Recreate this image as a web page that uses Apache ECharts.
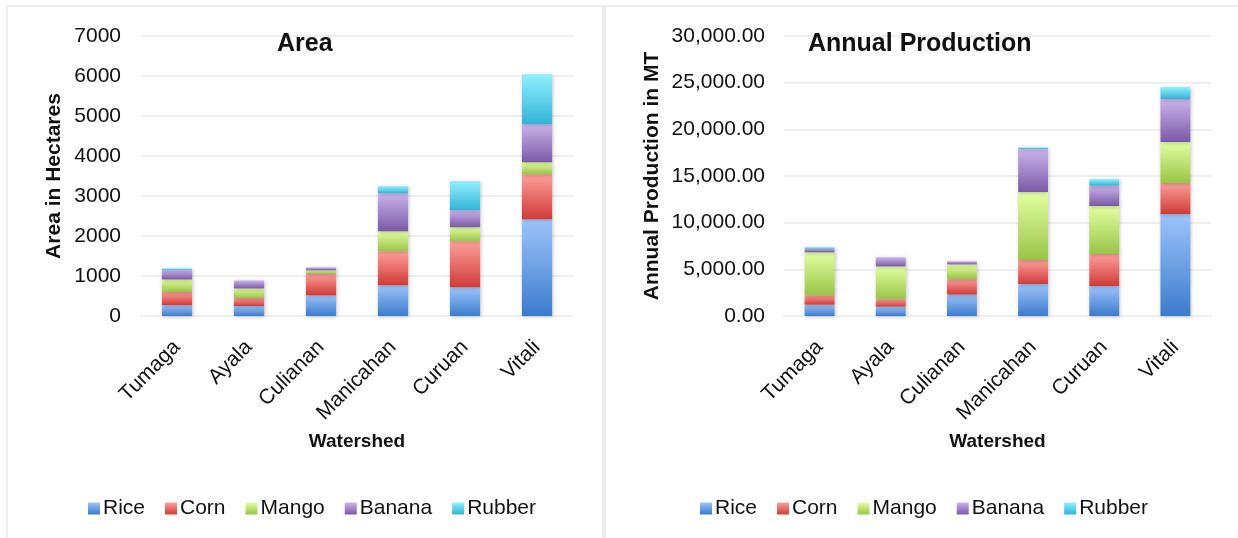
<!DOCTYPE html>
<html>
<head>
<meta charset="utf-8">
<script src="https://cdn.jsdelivr.net/npm/echarts@6/dist/echarts.min.js"></script>
<style>
  html, body { margin: 0; padding: 0; background: #ffffff; }
  #chart { width: 1238px; height: 538px; }
</style>
</head>
<body>
<div id="chart"></div>
<script>
// Watersheds and crops
const watersheds = ['Tumaga', 'Ayala', 'Culianan', 'Manicahan', 'Curuan', 'Vitali'];
const crops = ['Rice', 'Corn', 'Mango', 'Banana', 'Rubber'];

// Area planted, hectares (per crop, by watershed)
const areaRice   = [270, 250, 515, 770, 720, 2420];
const areaCorn   = [330, 200, 535, 850, 1150, 1125];
const areaMango  = [315, 240, 90, 500, 350, 300];
const areaBanana = [235, 200, 75, 950, 425, 950];
const areaRubber = [40, 0, 0, 175, 725, 1250];

// Annual production, metric tons (per crop, by watershed)
const prodRice   = [1220, 1005, 2300, 3430, 3215, 10930];
const prodCorn   = [1010, 790, 1655, 2570, 3430, 3320];
const prodMango  = [4600, 3525, 1580, 7285, 5140, 4395];
const prodBanana = [395, 970, 325, 4610, 2180, 4605];
const prodRubber = [145, 0, 0, 180, 715, 1285];

// Value-axis tick labels
const areaTicks = ['0', '1000', '2000', '3000', '4000', '5000', '6000', '7000'];
const prodTicks = ['0.00', '5,000.00', '10,000.00', '15,000.00', '20,000.00', '25,000.00', '30,000.00'];

const areaSeries = [areaRice, areaCorn, areaMango, areaBanana, areaRubber];
const prodSeries = [prodRice, prodCorn, prodMango, prodBanana, prodRubber];

// Light-top / dark-bottom shading for each crop
const shades = [
  ['#9dc4fb', '#3c7bcc'],
  ['#fd9f9c', '#d03b37'],
  ['#e2ffa2', '#99c447'],
  ['#cab4eb', '#7a59a6'],
  ['#90f0fe', '#33b3d6']
];

const FONT = '"Liberation Sans", Arial, sans-serif';
const TEXT = '#111111';
const GRID_LINE = '#efefef';

function gradient(i) {
  return {
    type: 'linear', x: 0, y: 0, x2: 0, y2: 1,
    colorStops: [{ offset: 0, color: shades[i][0] }, { offset: 1, color: shades[i][1] }]
  };
}

function barSeries(values, idx, axis, stack) {
  return {
    name: crops[idx],
    type: 'bar',
    stack: stack,
    xAxisIndex: axis,
    yAxisIndex: axis,
    barWidth: '42%',
    data: values,
    itemStyle: {
      color: gradient(idx),
      shadowBlur: 4,
      shadowColor: 'rgba(0,0,0,0.22)',
      shadowOffsetX: 1,
      shadowOffsetY: 1
    },
    emphasis: { disabled: true }
  };
}

function categoryAxis(gridIndex) {
  return {
    type: 'category',
    gridIndex: gridIndex,
    data: watersheds,
    name: 'Watershed',
    nameLocation: 'middle',
    nameGap: 116,
    nameTextStyle: { fontFamily: FONT, fontSize: 19, fontWeight: 'bold', color: TEXT },
    axisLine: { show: true, lineStyle: { color: GRID_LINE, width: 2 } },
    axisTick: { show: false },
    axisLabel: { rotate: 45, fontFamily: FONT, fontSize: 21, color: TEXT, margin: 28, interval: 0 }
  };
}

function valueAxis(gridIndex, max, step, ticks, name, gap, labelMargin) {
  return {
    type: 'value',
    gridIndex: gridIndex,
    min: 0,
    max: max,
    interval: step,
    name: name,
    nameLocation: 'middle',
    nameGap: gap,
    nameTextStyle: { fontFamily: FONT, fontSize: 21, fontWeight: 'bold', color: TEXT },
    axisLine: { show: false },
    axisTick: { show: false },
    splitLine: { lineStyle: { color: GRID_LINE, width: 2 } },
    axisLabel: {
      fontFamily: FONT, fontSize: 21, color: TEXT, margin: labelMargin,
      formatter: function (v) { return ticks[Math.round(v / step)]; }
    }
  };
}

const legendCommon = {
  data: crops,
  orient: 'horizontal',
  top: 498,
  padding: 0,
  itemWidth: 12,
  itemHeight: 12,
  itemGap: 20,
  selectedMode: false,
  icon: 'rect',
  textStyle: { fontFamily: FONT, fontSize: 21, color: TEXT, padding: [0, 0, 0, -2] }
};

const option = {
  animation: false,
  backgroundColor: '#ffffff',
  title: [
    { text: 'Area', left: 272, top: 27, textStyle: { fontFamily: FONT, fontSize: 25, fontWeight: 'bold', color: TEXT } },
    { text: 'Annual Production', left: 803, top: 27, textStyle: { fontFamily: FONT, fontSize: 25, fontWeight: 'bold', color: TEXT } }
  ],
  graphic: [
    { type: 'rect', shape: { x: 7, y: 6, width: 596, height: 540 }, style: { fill: 'none', stroke: '#eeeeee', lineWidth: 2 }, silent: true },
    { type: 'rect', shape: { x: 605, y: 6, width: 650, height: 540 }, style: { fill: 'none', stroke: '#eeeeee', lineWidth: 2 }, silent: true }
  ],
  legend: [
    Object.assign({ left: 88 }, legendCommon),
    Object.assign({ left: 700 }, legendCommon)
  ],
  grid: [
    { left: 141, right: 665, top: 36, bottom: 222 },
    { left: 784, right: 27, top: 36, bottom: 222 }
  ],
  xAxis: [categoryAxis(0), categoryAxis(1)],
  yAxis: [
    valueAxis(0, 7000, 1000, areaTicks, 'Area in Hectares', 76, 20),
    valueAxis(1, 30000, 5000, prodTicks, 'Annual Production in MT', 121, 19)
  ],
  series: [].concat(
    areaSeries.map(function (v, i) { return barSeries(v, i, 0, 'area'); }),
    prodSeries.map(function (v, i) { return barSeries(v, i, 1, 'prod'); })
  )
};

const chart = echarts.init(document.getElementById('chart'), null, { renderer: 'canvas' });
chart.setOption(option);
</script>
</body>
</html>
